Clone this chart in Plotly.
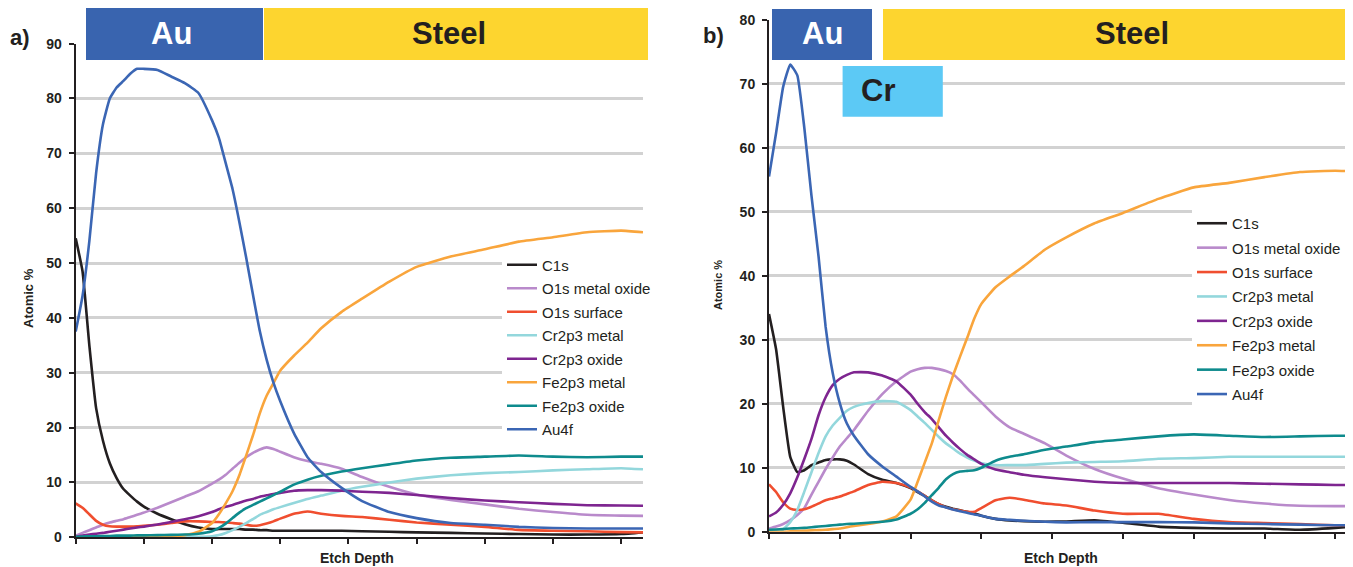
import plotly.graph_objects as go

# ---------------- data: panel a ----------------
depth_a = [0, 0.1, 0.2, 0.3, 0.4, 0.5, 0.6, 0.7, 0.8, 0.9, 1.0, 1.2, 1.4, 1.6, 1.8, 2.0,
           2.1, 2.2, 2.3, 2.4, 2.5, 2.6, 2.7, 2.8, 2.9, 3.0, 3.2, 3.4, 3.6, 3.9, 4.2, 4.6,
           5.0, 5.5, 6.0, 6.5, 7.0, 7.5, 8.0, 8.32]
a_C1s = [54.5, 48.5, 35, 23.5, 17.6, 13.5, 10.8, 8.8, 7.6, 6.5, 5.6, 4.3, 3.3, 2.4, 1.8, 1.5,
         1.5, 1.5, 1.5, 1.5, 1.4, 1.4, 1.3, 1.3, 1.2, 1.2, 1.2, 1.2, 1.2, 1.2, 1.1, 1.0,
         0.9, 0.8, 0.7, 0.6, 0.5, 0.5, 0.6, 0.9]
a_O1s_metal_oxide = [0.3, 0.8, 1.3, 1.8, 2.3, 2.7, 3.0, 3.3, 3.7, 4.1, 4.5, 5.4, 6.4, 7.4, 8.4, 9.8,
                     10.5, 11.4, 12.5, 13.6, 14.6, 15.4, 16.0, 16.4, 16.1, 15.6, 14.6, 13.9, 13.4, 12.5, 11.0, 9.2,
                     7.8, 6.8, 6.0, 5.2, 4.6, 4.1, 3.95, 3.9]
a_O1s_surface = [6.2, 5.4, 4.2, 3.0, 2.3, 2.0, 1.95, 1.95, 1.95, 2.0, 2.1, 2.3, 2.6, 2.9, 2.9, 2.8,
                 2.8, 2.7, 2.6, 2.5, 2.3, 2.1, 2.2, 2.5, 2.9, 3.4, 4.3, 4.7, 4.3, 3.9, 3.7, 3.2,
                 2.7, 2.3, 1.9, 1.35, 1.2, 1.1, 0.95, 0.9]
a_Cr2p3_metal = [0.05, 0.05, 0.05, 0.05, 0.05, 0.05, 0.05, 0.05, 0.05, 0.05, 0.05, 0.05, 0.05, 0.08, 0.1, 0.2,
                 0.4, 0.8, 1.3, 1.9, 2.6, 3.3, 4.1, 4.6, 5.1, 5.5, 6.25, 7.0, 7.6, 8.5, 9.2, 10.0,
                 10.7, 11.3, 11.7, 11.9, 12.2, 12.4, 12.6, 12.4]
a_Cr2p3_oxide = [0.1, 0.3, 0.5, 0.65, 0.8, 1.0, 1.2, 1.4, 1.6, 1.8, 1.95, 2.35, 2.8, 3.3, 3.85, 4.6,
                 5.1, 5.55, 5.9, 6.3, 6.7, 7.0, 7.4, 7.65, 7.9, 8.1, 8.5, 8.6, 8.6, 8.5, 8.3, 8.1,
                 7.7, 7.15, 6.7, 6.4, 6.1, 5.85, 5.8, 5.75]
a_Fe2p3_metal = [0, 0, 0, 0, 0.02, 0.03, 0.04, 0.05, 0.06, 0.07, 0.08, 0.1, 0.2, 0.4, 1.0, 2.6,
                 4.2, 6.2, 8.4, 11.3, 14.9, 18.6, 22.6, 25.8, 28.1, 30.4, 33.1, 35.5, 38.1, 41.1, 43.5, 46.6,
                 49.3, 51.2, 52.5, 53.9, 54.7, 55.6, 55.9, 55.6]
a_Fe2p3_oxide = [0.1, 0.15, 0.2, 0.2, 0.25, 0.25, 0.3, 0.3, 0.3, 0.35, 0.35, 0.4, 0.45, 0.5, 0.65, 1.1,
                 1.7, 2.5, 3.5, 4.5, 5.3, 5.9, 6.5, 7.1, 7.7, 8.3, 9.6, 10.5, 11.2, 12.0, 12.6, 13.3,
                 14.0, 14.5, 14.7, 14.9, 14.7, 14.6, 14.7, 14.7]
a_Au4f = [37.5, 44, 54, 66.5, 75.3, 80, 82, 83.2, 84.5, 85.4, 85.4, 85.2, 84, 82.8, 81, 76,
          72.8, 68.2, 63.5, 57.5, 51, 44.2, 37.6, 32.4, 28.2, 24.8, 19, 14.6, 11.9, 9.0, 6.6, 4.6,
          3.5, 2.6, 2.3, 1.9, 1.7, 1.6, 1.6, 1.6]

# ---------------- data: panel b ----------------
depth_b = [0, 0.1, 0.2, 0.3, 0.4, 0.5, 0.6, 0.7, 0.8, 0.9, 1.0, 1.1, 1.2, 1.4, 1.6, 1.8, 2.0,
           2.1, 2.2, 2.3, 2.4, 2.5, 2.6, 2.7, 2.8, 2.9, 3.0, 3.2, 3.4, 3.6, 3.9, 4.2, 4.6,
           5.0, 5.5, 6.0, 6.5, 7.0, 7.5, 8.0, 8.25]
b_C1s = [34, 28.5, 19.5, 11.7, 9.3, 9.6, 10.4, 10.8, 11.2, 11.3, 11.3, 11.1, 10.5, 9.0, 8.1, 7.6, 6.8,
         6.2, 5.6, 4.9, 4.3, 3.9, 3.6, 3.35, 3.1, 2.9, 2.5, 2.0, 1.75, 1.65, 1.55, 1.6, 1.8,
         1.4, 0.8, 0.6, 0.5, 0.5, 0.3, 0.6, 0.8]
b_O1s_metal_oxide = [0.5, 0.8, 1.2, 1.8, 2.6, 3.7, 5.8, 7.8, 9.8, 11.6, 13.3, 14.6, 15.9, 18.9, 21.5, 23.5, 25.0,
                     25.4, 25.6, 25.6, 25.4, 25.1, 24.6, 23.6, 22.4, 21.3, 20.2, 18.0, 16.3, 15.3, 13.8, 11.9, 9.8,
                     8.3, 6.8, 5.8, 4.95, 4.4, 4.05, 4.0, 4.0]
b_O1s_surface = [7.4, 6.2, 4.6, 3.6, 3.4, 3.5, 3.9, 4.4, 4.9, 5.2, 5.5, 5.9, 6.3, 7.3, 7.8, 7.6, 6.9,
                 6.3, 5.6, 4.9, 4.3, 3.8, 3.5, 3.3, 3.1, 3.1, 3.7, 4.9, 5.3, 5.0, 4.4, 4.1, 3.3,
                 2.8, 2.8, 2.0, 1.5, 1.35, 1.2, 1.0, 1.0]
b_Cr2p3_metal = [0.2, 0.3, 0.4, 1.5, 3.4, 6.3, 9.3, 12.3, 14.9, 16.6, 17.8, 18.9, 19.5, 20.1, 20.4, 20.3, 19.0,
                 18.0, 17.0, 15.9, 14.8, 13.8, 13.0, 12.2, 11.6, 11.1, 10.7, 10.4, 10.4, 10.4, 10.6, 10.8, 10.9,
                 11.0, 11.4, 11.5, 11.7, 11.7, 11.7, 11.7, 11.7]
b_Cr2p3_oxide = [2.4, 3.0, 4.2, 6.0, 8.5, 11.4, 14.5, 18.2, 21.0, 22.9, 23.9, 24.5, 24.9, 24.9, 24.4, 23.5, 21.4,
                 20.0, 18.7, 17.6, 16.3, 15.0, 13.9, 12.9, 12.0, 11.3, 10.6, 9.7, 9.3, 8.9, 8.5, 8.2, 7.8,
                 7.6, 7.6, 7.6, 7.6, 7.5, 7.4, 7.3, 7.3]
b_Fe2p3_metal = [0, 0, 0, 0.05, 0.1, 0.15, 0.2, 0.25, 0.3, 0.4, 0.5, 0.7, 0.9, 1.2, 1.6, 2.4, 5.0,
                 7.8, 10.8, 13.8, 17.5, 21.1, 24.4, 27.4, 30.3, 33.3, 35.6, 38.2, 39.9, 41.5, 44.1, 46.0, 48.2,
                 49.8, 52.0, 53.8, 54.5, 55.4, 56.2, 56.4, 56.3]
b_Fe2p3_oxide = [0.3, 0.35, 0.4, 0.5, 0.55, 0.6, 0.7, 0.8, 0.9, 1.0, 1.1, 1.2, 1.25, 1.4, 1.55, 1.9, 2.8,
                 3.5, 4.5, 5.7, 6.9, 8.2, 9.0, 9.4, 9.5, 9.6, 10.0, 11.1, 11.7, 12.1, 12.8, 13.3, 14.0,
                 14.4, 14.9, 15.2, 15.0, 14.8, 14.9, 15.0, 15.0]
b_Au4f = [55.5, 62.3, 69.5, 73.0, 71.3, 63, 52.5, 43, 32, 24.8, 20.1, 16.9, 15.0, 12.1, 10.2, 8.6, 7.0,
          6.3, 5.5, 4.7, 4.1, 3.8, 3.45, 3.2, 2.95, 2.7, 2.5, 2.0, 1.85, 1.7, 1.55, 1.45, 1.5,
          1.5, 1.5, 1.45, 1.3, 1.2, 1.1, 1.0, 1.0]

series_names = ["C1s", "O1s metal oxide", "O1s surface", "Cr2p3 metal", "Cr2p3 oxide",
                "Fe2p3 metal", "Fe2p3 oxide", "Au4f"]
series_colors = ["#231F20", "#B98ACB", "#F04E2F", "#93D7DC", "#7E2590",
                 "#F9A53C", "#0E8B8D", "#3B66B4"]
y_ticks_a = [0, 10, 20, 30, 40, 50, 60, 70, 80, 90]
y_ticks_b = [0, 10, 20, 30, 40, 50, 60, 70, 80]
x_ticks_a = [0, 1, 2, 3, 4, 5, 6, 7, 8]
x_ticks_b = [0, 1, 2, 3, 4, 5, 6, 7, 8]

panel_a = [a_C1s, a_O1s_metal_oxide, a_O1s_surface, a_Cr2p3_metal, a_Cr2p3_oxide,
           a_Fe2p3_metal, a_Fe2p3_oxide, a_Au4f]
panel_b = [b_C1s, b_O1s_metal_oxide, b_O1s_surface, b_Cr2p3_metal, b_Cr2p3_oxide,
           b_Fe2p3_metal, b_Fe2p3_oxide, b_Au4f]

# the page places the figure 8 px from the window's top-left corner
OFF = 8
W, H = 1353 - OFF, 567 - OFF
def px(x):
    return (x - OFF) / W
def py(y):
    return 1 - (y - OFF) / H

FONT = "Liberation Sans, Arial, Helvetica, sans-serif"
INK = "#231F20"

fig = go.Figure()
for name, col, ys in zip(series_names, series_colors, panel_a):
    fig.add_trace(go.Scatter(x=depth_a, y=ys, mode="lines", name=name,
                             line=dict(color=col, width=2.6, shape="spline", smoothing=0.4),
                             legend="legend", legendgroup="a_" + name, xaxis="x", yaxis="y"))
for name, col, ys in zip(series_names, series_colors, panel_b):
    fig.add_trace(go.Scatter(x=depth_b, y=ys, mode="lines", name=name,
                             line=dict(color=col, width=2.6, shape="spline", smoothing=0.4),
                             legend="legend2", legendgroup="b_" + name, xaxis="x2", yaxis="y2"))

xcommon = dict(showgrid=False, zeroline=False, showline=True, linecolor=INK, linewidth=2,
               ticks="outside", ticklen=5, tickwidth=1.5, tickcolor=INK, showticklabels=False,
               automargin=False)
ycommon = dict(showgrid=True, gridcolor="#D2D2D2", gridwidth=2.5, zeroline=False, showline=True,
               linecolor=INK, linewidth=2, ticks="outside", ticklen=5, tickwidth=1.5, tickcolor=INK,
               tickfont=dict(family=FONT, size=14, color=INK, weight="bold"), ticklabelstandoff=4,
               automargin=False)

legend_common = dict(bgcolor="white", borderwidth=0, xanchor="left", yanchor="top",
                     font=dict(family=FONT, size=15, color=INK), itemclick=False,
                     itemdoubleclick=False)

fig.update_layout(
    width=W, height=H, margin=dict(l=0, r=0, t=0, b=0, pad=0, autoexpand=False),
    paper_bgcolor="white", plot_bgcolor="white", showlegend=True,
    xaxis=dict(domain=[px(75.7), px(643)], range=[0, 8.32], tickvals=x_ticks_a, anchor="y", **xcommon),
    yaxis=dict(domain=[py(537.3), py(43.6)], range=[0, 90], tickvals=y_ticks_a, anchor="x", **ycommon),
    xaxis2=dict(domain=[px(769), 1.0], range=[0, 8.25], tickvals=x_ticks_b, anchor="y2", **xcommon),
    yaxis2=dict(domain=[py(531.7), py(19.7)], range=[0, 80], tickvals=y_ticks_b, anchor="x2", **ycommon),
    legend=dict(x=px(502), y=py(248.5), tracegroupgap=1.0, **legend_common),
    legend2=dict(x=px(1192), y=py(207), tracegroupgap=1.9, **legend_common),
)

# coloured region bars
boxes = [
    (86, 263, 8, 60, "#3964AF"),
    (264, 648, 8, 60, "#FDD52F"),
    (772, 872, 9, 60, "#3964AF"),
    (883, 1353, 9, 60, "#FDD52F"),
    (842.6, 942.8, 66, 116.7, "#5CC9F5"),
]
for x0, x1, y0, y1, c in boxes:
    fig.add_shape(type="rect", xref="paper", yref="paper", x0=px(x0), x1=px(x1),
                  y0=py(y1), y1=py(y0), fillcolor=c, line=dict(width=0), layer="above")

def label(text, x, y, size, color=INK, weight="bold", angle=0):
    fig.add_annotation(text=text, x=px(x), y=py(y), xref="paper", yref="paper",
                       showarrow=False, xanchor="center", yanchor="middle", textangle=angle,
                       font=dict(family=FONT, size=size, color=color, weight=weight))

label("Au", 171.5, 34, 31, color="white")
label("Steel", 449, 34, 31)
label("Au", 822, 34, 31, color="white")
label("Steel", 1132, 34, 31)
label("Cr", 877.6, 91, 31)
label("a)", 20, 37, 22)
label("b)", 713, 36, 22)
label("Atomic %", 28, 298, 13, angle=-90)
label("Atomic %", 718, 285, 11, angle=-90)
label("Etch Depth", 357, 558, 14)
label("Etch Depth", 1061, 558, 14)

fig.write_html("out.html")
